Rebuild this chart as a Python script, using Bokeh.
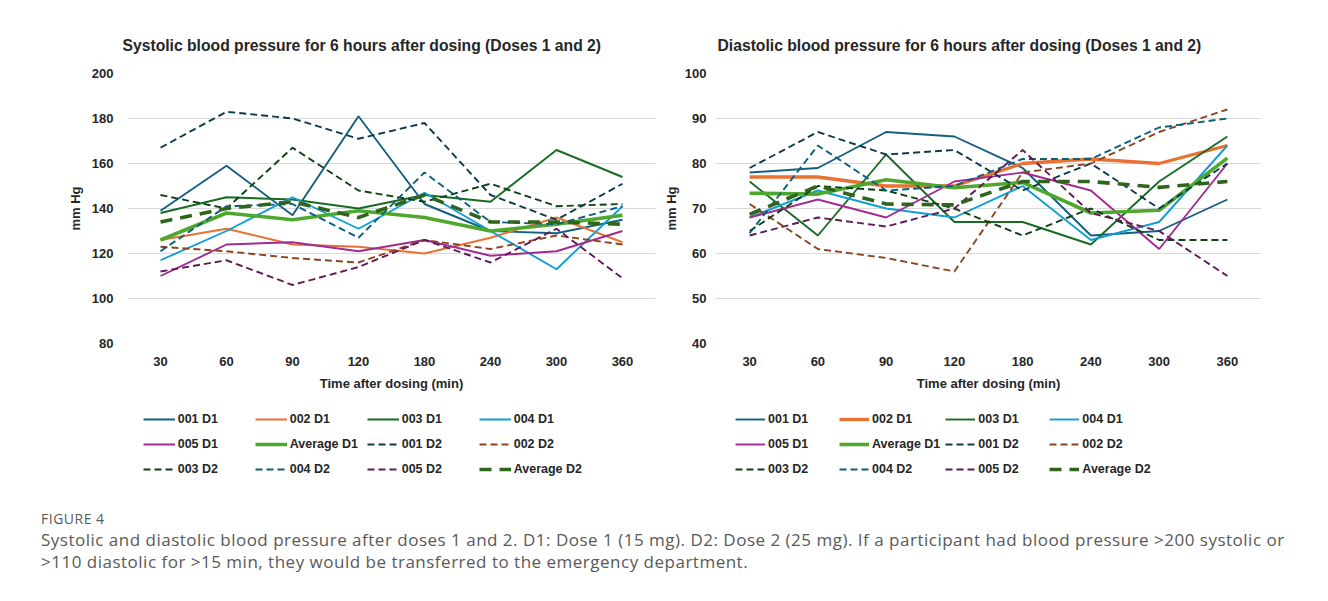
from bokeh.plotting import figure
from bokeh.models import Legend, LegendItem, Div, FactorRange, Range1d, FixedTicker
from bokeh.layouts import column, row
from bokeh.embed import file_html
from bokeh.resources import INLINE

# ---------------- data ----------------
times = ["30", "60", "90", "120", "180", "240", "300", "360"]
series_names = ["001 D1", "002 D1", "003 D1", "004 D1", "005 D1", "Average D1",
                "001 D2", "002 D2", "003 D2", "004 D2", "005 D2", "Average D2"]

# Systolic (mm Hg)
sys_001_d1 = [139, 159, 137, 181, 142, 130, 129, 135]
sys_002_d1 = [126, 131, 124, 123, 120, 127, 136, 125]
sys_003_d1 = [138, 145, 144, 140, 146, 143, 166, 154]
sys_004_d1 = [117, 130, 145, 131, 147, 130, 113, 141]
sys_005_d1 = [110, 124, 125, 121, 126, 119, 121, 130]
sys_avg_d1 = [126, 138, 135, 139, 136, 130, 133, 137]
sys_001_d2 = [167, 183, 180, 171, 178, 146, 135, 151]
sys_002_d2 = [123, 121, 118, 116, 126, 122, 128, 124]
sys_003_d2 = [146, 140, 167, 148, 143, 151, 141, 142]
sys_004_d2 = [121, 141, 142, 127, 156, 134, 133, 141]
sys_005_d2 = [112, 117, 106, 114, 126, 116, 131, 109]
sys_avg_d2 = [134, 140, 143, 136, 146, 134, 134, 133]

# Diastolic (mm Hg)
dia_001_d1 = [78, 79, 87, 86, 79, 64, 65, 72]
dia_002_d1 = [77, 77, 75, 75, 80, 81, 80, 84]
dia_003_d1 = [76, 64, 82, 67, 67, 62, 76, 86]
dia_004_d1 = [68, 74, 70, 68, 75, 63, 67, 84]
dia_005_d1 = [68, 72, 68, 76, 78, 74, 61, 80]
dia_avg_d1 = [73.4, 73.2, 76.4, 74.6, 75.8, 69, 69.6, 81.2]
dia_001_d2 = [79, 87, 82, 83, 74, 80, 70, 80]
dia_002_d2 = [71, 61, 59, 56, 78, 80, 87, 92]
dia_003_d2 = [65, 75, 74, 70, 64, 70, 63, 63]
dia_004_d2 = [64.5, 84, 74, 75, 81, 81, 88, 90]
dia_005_d2 = [64, 68, 66, 70, 83, 69, 65, 55]
dia_avg_d2 = [68.7, 75, 71, 70.8, 76, 76, 74.7, 76]

sys_series = [sys_001_d1, sys_002_d1, sys_003_d1, sys_004_d1, sys_005_d1, sys_avg_d1,
              sys_001_d2, sys_002_d2, sys_003_d2, sys_004_d2, sys_005_d2, sys_avg_d2]
dia_series = [dia_001_d1, dia_002_d1, dia_003_d1, dia_004_d1, dia_005_d1, dia_avg_d1,
              dia_001_d2, dia_002_d2, dia_003_d2, dia_004_d2, dia_005_d2, dia_avg_d2]

sys_ticks = [80, 100, 120, 140, 160, 180, 200]
dia_ticks = [40, 50, 60, 70, 80, 90, 100]

# ---------------- styles ----------------
colors = ["#156082", "#E97132", "#196B24", "#0F9ED5", "#A02B93", "#4EA72E",
          "#0D3A4E", "#8C441E", "#0F4016", "#095F80", "#601A58", "#2F641C"]
dashes = ["solid"] * 6 + ["7 4"] * 5 + ["12 8"]
widths_sys = [1.9, 1.9, 1.9, 1.9, 1.9, 3.6, 1.9, 1.9, 1.9, 1.9, 1.9, 3.6]
widths_dia = [1.9, 3.3, 1.9, 1.9, 1.9, 3.6, 1.9, 1.9, 1.9, 1.9, 1.9, 3.6]

FONT = "Liberation Sans"
TXT = "#262626"


def make_chart(title, data, ticks, widths, width, mb_left, mb_right,
               title_offset, ylab_standoff, ylab_title_standoff):
    p = figure(x_range=FactorRange(*times), y_range=Range1d(ticks[0], ticks[-1]),
               width=width, height=398, output_backend="svg", toolbar_location=None,
               min_border_left=mb_left, min_border_right=mb_right,
               min_border_top=73, min_border_bottom=55)
    p.outline_line_color = None
    p.background_fill_color = "white"
    p.border_fill_color = "white"

    p.title.text = title
    p.title.text_font = FONT
    p.title.text_font_size = "15.7px"
    p.title.text_font_style = "bold"
    p.title.text_color = TXT
    p.title.align = "left"
    p.title.offset = title_offset
    p.title.standoff = 39

    p.xgrid.grid_line_color = None
    p.ygrid.grid_line_color = "#d9d9d9"
    p.ygrid.grid_line_width = 1
    p.yaxis.ticker = FixedTicker(ticks=ticks)

    for ax in (p.xaxis[0], p.yaxis[0]):
        ax.axis_line_color = None
        ax.major_tick_line_color = None
        ax.minor_tick_line_color = None
        ax.major_tick_out = 0
        ax.major_tick_in = 0
        ax.major_label_text_font = FONT
        ax.major_label_text_font_size = "13px"
        ax.major_label_text_font_style = "bold"
        ax.major_label_text_color = TXT
        ax.axis_label_text_font = FONT
        ax.axis_label_text_font_size = "13px"
        ax.axis_label_text_font_style = "bold"
        ax.axis_label_text_color = TXT

    p.xaxis.axis_label = "Time after dosing (min)"
    p.xaxis.major_label_standoff = 13
    p.xaxis.axis_label_standoff = 7
    p.yaxis.axis_label = "mm Hg"
    p.yaxis.major_label_standoff = ylab_standoff
    p.yaxis.axis_label_standoff = ylab_title_standoff

    for vals, c, d, w in zip(data, colors, dashes, widths):
        p.line(times, vals, line_color=c, line_width=w, line_dash=d)
    return p


def make_legend(data, ticks, widths, width, dx, label_width, glyph_w):
    lf = figure(width=width, height=97, x_range=FactorRange(*times),
                y_range=Range1d(ticks[0], ticks[-1]),
                output_backend="svg", toolbar_location=None,
                x_axis_location=None, y_axis_location=None,
                min_border=0, min_border_left=0, min_border_right=0,
                min_border_top=0, min_border_bottom=0)
    lf.outline_line_color = None
    lf.grid.visible = False
    items = []
    for name, vals, c, d, w in zip(series_names, data, colors, dashes, widths):
        # hidden series: used only as legend keys (the visible lines are in the chart above)
        r = lf.line(times, vals, line_color=c, line_width=w, line_dash=d, visible=False)
        items.append(LegendItem(label=name, renderers=[r]))
    leg = Legend(items=items, orientation="horizontal", ncols=4,
                 location=(dx, 15.7), padding=0, margin=0, spacing=5,
                 glyph_width=glyph_w, glyph_height=20, label_height=20,
                 label_width=label_width, label_standoff=3,
                 border_line_color=None, background_fill_alpha=0,
                 inactive_fill_alpha=0,
                 label_text_font=FONT, label_text_font_size="12.5px",
                 label_text_font_style="bold", label_text_color=TXT)
    lf.add_layout(leg, "center")
    return lf


p1 = make_chart("Systolic blood pressure for 6 hours after dosing (Doses 1 and 2)",
                sys_series, sys_ticks, widths_sys, 660, 127, 5, -5, 14, 6)
p2 = make_chart("Diastolic blood pressure for 6 hours after dosing (Doses 1 and 2)",
                dia_series, dia_ticks, widths_dia, 662, 55, 61, 2, 9, 3)
l1 = make_legend(sys_series, sys_ticks, widths_sys, 660, 15.7, 72, 32)
l2 = make_legend(dia_series, dia_ticks, widths_dia, 662, 20, 66, 30)

caption = Div(text=(
    '<div style="padding-left:36px;font-family:\'Open Sans\';color:#595959;white-space:nowrap;">'
    '<div style="font-size:14px;letter-spacing:0.5px;line-height:18px;margin-top:10px;">FIGURE 4</div>'
    '<div style="font-size:17px;letter-spacing:0.5px;line-height:22px;margin-top:1px;">'
    'Systolic and diastolic blood pressure after doses 1 and 2. D1: Dose 1 (15 mg). '
    'D2: Dose 2 (25 mg). If a participant had blood pressure &gt;200 systolic or<br>'
    '&gt;110 diastolic for &gt;15 min, they would be transferred to the emergency department.'
    '</div></div>'), width=1322, height=100)

layout = column(row(column(p1, l1), column(p2, l2)), caption)
open("out.html", "w").write(file_html(layout, INLINE))
